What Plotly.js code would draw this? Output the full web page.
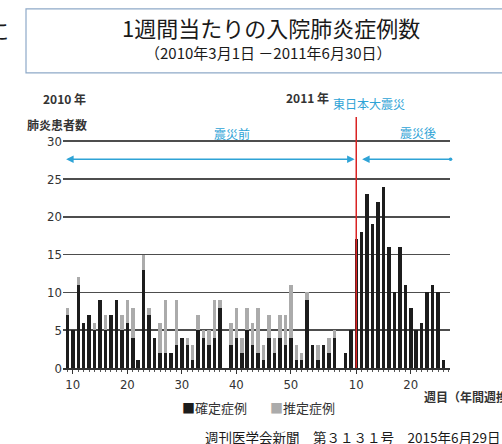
<!DOCTYPE html>
<html>
<head>
<meta charset="utf-8">
<script src="https://cdn.plot.ly/plotly-3.0.1.min.js"></script>
<style>
html,body{margin:0;padding:0;background:#fff;}
#chart{width:502px;height:444px;}
</style>
</head>
<body>
<div id="chart"></div>
<script>
// Week numbers: 2010 week 9 .. 52, then 2011 week 1 .. 26
const weekNo = [9,10,11,12,13,14,15,16,17,18,19,20,21,22,23,24,25,26,27,28,29,30,31,32,33,34,35,36,37,38,39,40,41,42,43,44,45,46,47,48,49,50,51,52,
                1,2,3,4,5,6,7,8,9,10,11,12,13,14,15,16,17,18,19,20,21,22,23,24,25,26];
const confirmed = [7,5,11,6,7,5,9,5,7,9,5,6,4,1,13,7,4,2,2,2,3,4,3,1,5,4,3,4,8,0,3,4,2,5,3,2,1,4,2,4,3,4,1,1,
                   9,3,1,3,2,4,0,2,5,17,18,23,19,22,24,16,10,16,11,8,5,6,10,11,10,1];
const probable  = [1,0,1,0,0,1,0,2,0,0,2,3,4,0,2,1,0,4,7,0,6,0,1,2,2,1,2,5,1,0,3,4,2,3,3,6,2,3,2,3,4,7,2,1,
                   1,0,2,0,2,1,0,0,0,0,0,0,0,0,0,0,0,0,0,0,0,0,0,0,0,0];
const seriesNames = ['確定症例','推定症例'];
const yTicks = [0,5,10,15,20,25,30];
const quakePos = 53;          // position in the series of 2011 week 10 (東日本大震災)

const firstIdx = 9;
const xIdx = weekNo.map((w,i)=> i + firstIdx);
const tickvals = xIdx.filter((x,i)=> weekNo[i] % 10 === 0);
const ticktext = weekNo.filter(w => w % 10 === 0).map(String);
const quakeX = xIdx[quakePos];

const cyan = '#2ea3d6';
const txt = '#333333';
const fontCJK = '"Noto Sans CJK JP", "Noto Sans", sans-serif';
const fontNum = '"DejaVu Sans Condensed", "Liberation Sans Narrow", "Liberation Sans", sans-serif';

const traces = [
  {type:'bar', x:xIdx, y:confirmed, name:seriesNames[0], marker:{color:'#1c1c1c'}, hoverinfo:'skip'},
  {type:'bar', x:xIdx, y:probable, name:seriesNames[1], marker:{color:'#ababab'}, hoverinfo:'skip'}
];

// plot area: top 140, bottom 368 (height 228)
const layout = {
  width:502, height:444,
  margin:{l:63, r:52, t:140, b:76},
  paper_bgcolor:'#ffffff', plot_bgcolor:'#ffffff',
  barmode:'stack', bargap:0.36,
  showlegend:false,
  title:{text:'1週間当たりの入院肺炎症例数', x:0.54, xanchor:'center', y:0.935, yanchor:'middle',
         font:{family:fontCJK, size:22, color:'#1a1a1a'}},
  xaxis:{range:[8.2,79.2], tickmode:'array', tickvals:tickvals, ticktext:ticktext,
         showline:true, linecolor:'#333', linewidth:1.5, ticks:'outside', ticklen:4, tickcolor:'#333',
         minor:{tickmode:'linear', tick0:0, dtick:1, ticks:'outside', ticklen:2, tickcolor:'#555'},
         showgrid:false, zeroline:false, fixedrange:true,
         tickfont:{family:fontNum, size:13, color:txt}},
  yaxis:{range:[0,30.15], tickmode:'array', tickvals:yTicks, ticktext:yTicks.map(String),
         showgrid:true, gridcolor:'#4d4d4d', gridwidth:1.5, zeroline:false, showline:false, ticks:'',
         fixedrange:true, tickfont:{family:fontNum, size:13, color:txt}},
  shapes:[
    {type:'rect', xref:'paper', yref:'paper', x0:-0.0956, x1:1.25, y0:1.294, y1:1.575,
     line:{color:'#8ea9c8', width:1.2}, fillcolor:'rgba(0,0,0,0)', layer:'below'}
  ],
  annotations:[
    {xref:'paper', yref:'paper', x:0.531, y:1.382, xanchor:'center', yanchor:'middle', showarrow:false,
     text:'（2010年3月1日 －2011年6月30日）', font:{family:fontCJK, size:15, color:'#1a1a1a'}},
    // slide text cut at left edge
    {xref:'paper', yref:'paper', x:-0.168, y:1.487, xanchor:'center', yanchor:'middle', showarrow:false,
     text:'に', font:{family:fontCJK, size:22, color:'#1a1a1a'}},
    {xref:'paper', yref:'paper', x:-0.172, y:1.30, xanchor:'center', yanchor:'middle', showarrow:false,
     text:'、', font:{family:fontCJK, size:22, color:'#1a1a1a'}},
    // labels above plot
    {xref:'paper', yref:'paper', x:0.003, y:1.18, xanchor:'center', yanchor:'middle', showarrow:false,
     text:'<b>2010 年</b>', font:{family:fontCJK, size:12, color:txt}},
    {xref:'paper', yref:'paper', x:-0.0155, y:1.07, xanchor:'center', yanchor:'middle', showarrow:false,
     text:'<b>肺炎患者数</b>', font:{family:fontCJK, size:12, color:txt}},
    {xref:'paper', yref:'paper', x:0.633, y:1.188, xanchor:'center', yanchor:'middle', showarrow:false,
     text:'<b>2011 年</b>', font:{family:fontCJK, size:12, color:txt}},
    {xref:'paper', yref:'paper', x:0.791, y:1.158, xanchor:'center', yanchor:'middle', showarrow:false,
     text:'東日本大震災', font:{family:fontCJK, size:12, color:cyan}},
    {xref:'paper', yref:'paper', x:0.437, y:1.03, xanchor:'center', yanchor:'middle', showarrow:false,
     text:'震災前', font:{family:fontCJK, size:12, color:cyan}},
    {xref:'paper', yref:'paper', x:0.917, y:1.035, xanchor:'center', yanchor:'middle', showarrow:false,
     text:'震災後', font:{family:fontCJK, size:12, color:cyan}},
    // earthquake line
    {xref:'x', yref:'y', x:quakeX, y:0, axref:'x', ayref:'y', ax:quakeX, ay:33.4, text:'',
     showarrow:true, arrowhead:0, arrowwidth:1.5, arrowcolor:'#d92323', standoff:0, startstandoff:0},
    // before / after arrows
    {xref:'x', yref:'y', x:quakeX-0.3, y:27.6, axref:'x', ayref:'y', ax:8.5, ay:27.6, text:'',
     showarrow:true, arrowside:'end+start', arrowhead:2, startarrowhead:2, arrowsize:1, startarrowsize:1,
     arrowwidth:1.5, arrowcolor:cyan, standoff:0, startstandoff:0},
    {xref:'x', yref:'y', x:79.3, y:27.6, axref:'x', ayref:'y', ax:quakeX+0.8, ay:27.6, text:'',
     showarrow:true, arrowside:'end+start', arrowhead:6, startarrowhead:2, arrowsize:0.6, startarrowsize:1,
     arrowwidth:1.5, arrowcolor:cyan, standoff:0, startstandoff:0},
    // x axis title
    {xref:'paper', yref:'paper', x:0.928, y:-0.127, xanchor:'left', yanchor:'middle', showarrow:false,
     text:'<b>週目（年間週換算）</b>', font:{family:fontCJK, size:12, color:txt}},
    // legend
    {xref:'paper', yref:'paper', x:0.302, y:-0.175, xanchor:'left', yanchor:'middle', showarrow:false,
     text:'<span style="color:#1c1c1c">■</span>' + seriesNames[0], font:{family:fontCJK, size:13, color:txt}},
    {xref:'paper', yref:'paper', x:0.530, y:-0.175, xanchor:'left', yanchor:'middle', showarrow:false,
     text:'<span style="color:#ababab">■</span>' + seriesNames[1], font:{family:fontCJK, size:13, color:txt}},
    // source
    {xref:'paper', yref:'paper', x:0.362, y:-0.303, xanchor:'left', yanchor:'middle', showarrow:false,
     text:'週刊医学会新聞　第３１３１号　2015年6月29日', font:{family:fontCJK, size:13.5, color:'#1a1a1a'}}
  ]
};

Plotly.newPlot('chart', traces, layout, {displayModeBar:false, staticPlot:true});
</script>
</body>
</html>
